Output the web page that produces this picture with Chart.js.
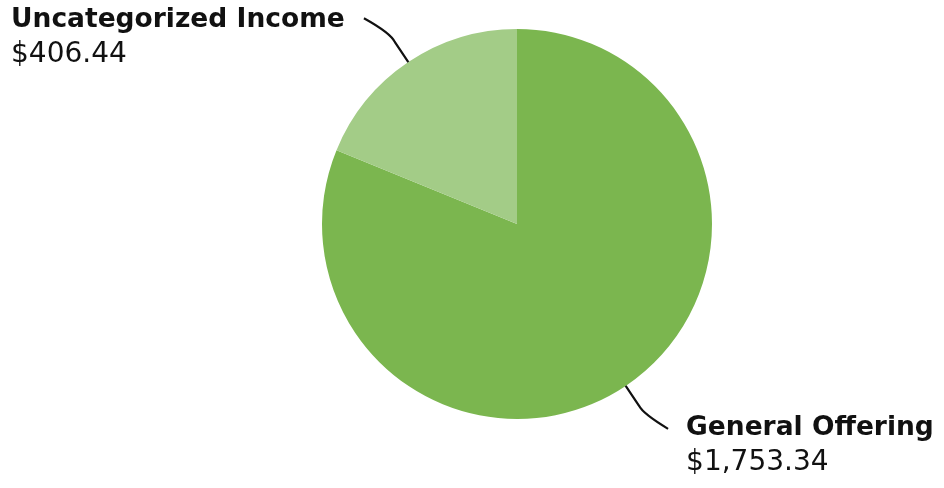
<!DOCTYPE html>
<html>
<head>
<meta charset="utf-8">
<script src="https://cdn.jsdelivr.net/npm/chart.js@4.4.1/dist/chart.umd.min.js"></script>
<style>
  html, body { margin: 0; padding: 0; background: #fff; }
  #wrap { width: 944px; height: 488px; position: relative; }
</style>
</head>
<body>
<div id="wrap"><canvas id="incomeChart"></canvas></div>
<script>
// data
const categories = ['General Offering', 'Uncategorized Income'];
const amounts = [1753.34, 406.44];
const sliceColors = ['#7bb64f', '#a3cc87'];

function money(v) {
    return '$' + v.toLocaleString('en-US', { minimumFractionDigits: 2, maximumFractionDigits: 2 });
}

// leader lines + two-line labels beside each slice
const calloutPlugin = {
    id: 'callouts',
    afterDatasetsDraw(chart) {
        const c = chart.ctx;
        const meta = chart.getDatasetMeta(0);
        meta.data.forEach((arc, i) => {
            const p = arc.getProps(['x', 'y', 'startAngle', 'endAngle', 'outerRadius'], true);
            const mid = (p.startAngle + p.endAngle) / 2;
            const cos = Math.cos(mid), sin = Math.sin(mid);
            const x0 = p.x + cos * p.outerRadius, y0 = p.y + sin * p.outerRadius;
            const x1 = p.x + cos * (p.outerRadius + 24), y1 = p.y + sin * (p.outerRadius + 24);
            const right = cos >= 0;
            const x2 = x1 + (right ? 29 : -31), y2 = y1 + (sin > 0 ? 23 : -24);

            c.save();
            c.strokeStyle = '#111';
            c.lineWidth = 2.2;
            c.beginPath();
            c.moveTo(x0, y0);
            c.lineTo(x1, y1);
            c.quadraticCurveTo(x1 + (right ? 4 : -4), y1 + (sin > 0 ? 8 : -9), x2, y2);
            c.stroke();

            c.fillStyle = '#111';
            c.textBaseline = 'alphabetic';
            c.textAlign = 'left';
            let tx, ty;
            if (right) {
                tx = x2 + 18; ty = y2 + 6;
            } else {
                tx = 11; ty = y2 + 9;
            }
            c.font = 'bold 26.5px "DejaVu Sans"';
            c.fillText(categories[i], tx, ty);
            c.font = '28px "DejaVu Sans"';
            c.fillText(money(amounts[i]), tx, ty + 35);
            c.restore();
        });
    }
};

new Chart(document.getElementById('incomeChart'), {
    type: 'pie',
    data: {
        labels: categories,
        datasets: [{
            data: amounts,
            backgroundColor: sliceColors,
            borderWidth: 0
        }]
    },
    options: {
        responsive: true,
        maintainAspectRatio: false,
        animation: false,
        layout: { padding: { left: 90, right: 0, top: 29, bottom: 69 } },
        plugins: {
            legend: { display: false },
            tooltip: { enabled: false }
        }
    },
    plugins: [calloutPlugin]
});
</script>
</body>
</html>
